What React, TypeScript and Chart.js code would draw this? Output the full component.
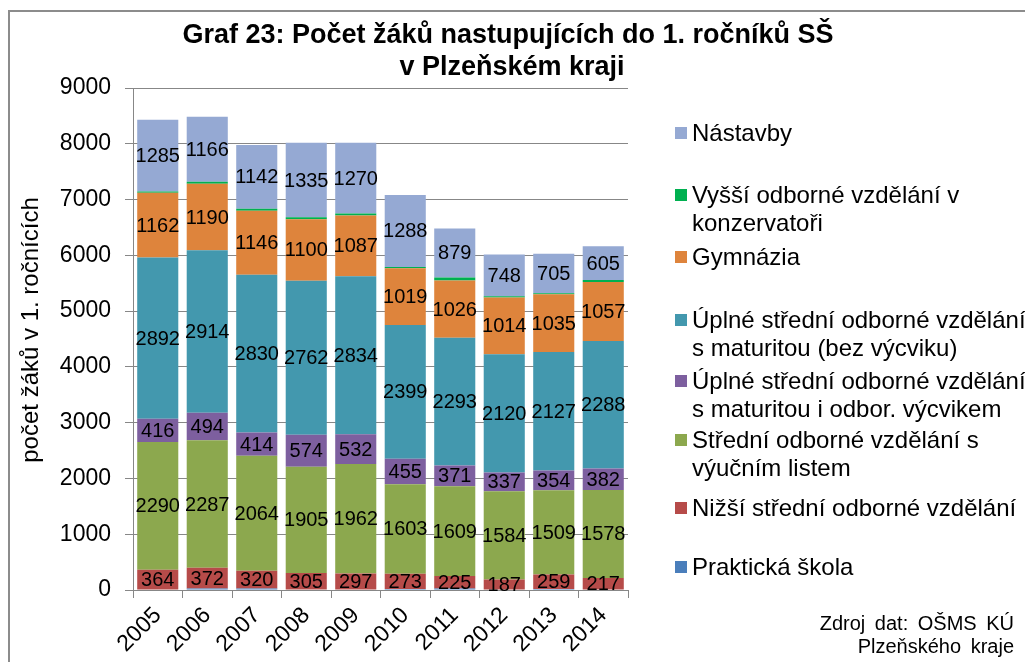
import React, { useEffect, useRef } from 'react';
import { Chart, registerables } from 'chart.js';

Chart.register(...registerables);

// ---------- DATA ----------
const years = ['2005', '2006', '2007', '2008', '2009', '2010', '2011', '2012', '2013', '2014'];

const praktickaSkola = [0, 25, 25, 0, 0, 20, 25, 0, 20, 0];
const nizsiStredni = [364, 372, 320, 305, 297, 273, 225, 187, 259, 217];
const stredniVyucni = [2290, 2287, 2064, 1905, 1962, 1603, 1609, 1584, 1509, 1578];
const uplneSVycvikem = [416, 494, 414, 574, 532, 455, 371, 337, 354, 382];
const uplneBezVycviku = [2892, 2914, 2830, 2762, 2834, 2399, 2293, 2120, 2127, 2288];
const gymnazia = [1162, 1190, 1146, 1100, 1087, 1019, 1026, 1014, 1035, 1057];
const konzervator = [20, 36, 36, 36, 36, 24, 54, 24, 18, 36];
const nastavby = [1285, 1166, 1142, 1335, 1270, 1288, 879, 748, 705, 605];

const yMin = 0;
const yMax = 9000;
const yStep = 1000;

const titleLines = ['Graf 23: Počet žáků nastupujících do 1. ročníků SŠ', 'v Plzeňském kraji'];
const yAxisTitle = 'počet žáků v 1. ročnících';
const sourceLines = ['Zdroj dat: OŠMS KÚ', 'Plzeňského kraje'];

// stacking order: bottom -> top
const series = [
  { label: 'Praktická škola', lines: ['Praktická škola'], data: praktickaSkola, color: '#4A7EBB', values: false },
  { label: 'Nižší střední odborné vzdělání', lines: ['Nižší střední odborné vzdělání'], data: nizsiStredni, color: '#B64B49', values: true },
  { label: 'Střední odborné vzdělání s výučním listem', lines: ['Střední odborné vzdělání s', 'výučním listem'], data: stredniVyucni, color: '#8CA84E', values: true },
  { label: 'Úplné střední odborné vzdělání s maturitou i odbor. výcvikem', lines: ['Úplné střední odborné vzdělání', 's maturitou i odbor. výcvikem'], data: uplneSVycvikem, color: '#7D5F9F', values: true },
  { label: 'Úplné střední odborné vzdělání s maturitou (bez výcviku)', lines: ['Úplné střední odborné vzdělání', 's maturitou (bez výcviku)'], data: uplneBezVycviku, color: '#4398AE', values: true },
  { label: 'Gymnázia', lines: ['Gymnázia'], data: gymnazia, color: '#DE843C', values: true },
  { label: 'Vyšší odborné vzdělání v konzervatoři', lines: ['Vyšší odborné vzdělání v', 'konzervatoři'], data: konzervator, color: '#00B050', values: false },
  { label: 'Nástavby', lines: ['Nástavby'], data: nastavby, color: '#95A9D3', values: true },
];

// ---------- LAYOUT ----------
const W = 1025;
const H = 662;
const FONT = '"Liberation Sans", Arial, sans-serif';
const GRID = '#878787';

// legend first-line baselines, top -> bottom (legend is reversed stacking order)
const legendBaselines = [141, 203, 265, 328, 389, 448, 516, 575];
const legendLineGap = 28;

const decorPlugin = {
  id: 'decor',
  beforeDraw(chart: any) {
    const ctx = chart.ctx;
    ctx.save();
    ctx.fillStyle = '#ffffff';
    ctx.fillRect(0, 0, chart.width, chart.height);
    ctx.strokeStyle = '#8c8c8c';
    ctx.lineWidth = 2;
    ctx.strokeRect(9, 11, 1040, 700);
    ctx.restore();
  },
  afterDatasetsDraw(chart: any) {
    const ctx = chart.ctx;
    ctx.save();
    ctx.font = `20px ${FONT}`;
    ctx.fillStyle = '#000';
    ctx.textAlign = 'center';
    ctx.textBaseline = 'middle';
    chart.data.datasets.forEach((ds: any, i: number) => {
      if (!ds.showValues) return;
      const meta = chart.getDatasetMeta(i);
      meta.data.forEach((bar: any, j: number) => {
        const p = bar.getProps(['x', 'y', 'base'], true);
        const v = ds.data[j];
        ctx.fillText(String(v), p.x, (p.y + p.base) / 2 + 1);
      });
    });
    ctx.restore();
  },
  afterDraw(chart: any) {
    const ctx = chart.ctx;
    ctx.save();
    // title
    ctx.fillStyle = '#000';
    ctx.font = `bold 27px ${FONT}`;
    ctx.textAlign = 'center';
    ctx.textBaseline = 'alphabetic';
    ctx.fillText(titleLines[0], 508, 43);
    ctx.fillText(titleLines[1], 512, 75);

    // y axis title
    ctx.save();
    ctx.translate(31, 330);
    ctx.rotate(-Math.PI / 2);
    ctx.font = `24px ${FONT}`;
    ctx.textAlign = 'center';
    ctx.textBaseline = 'middle';
    ctx.fillText(yAxisTitle, 0, 0);
    ctx.restore();

    // legend
    ctx.font = `24px ${FONT}`;
    ctx.textAlign = 'left';
    ctx.textBaseline = 'alphabetic';
    const legendItems = [...series].reverse();
    legendItems.forEach((s, k) => {
      const base = legendBaselines[k];
      ctx.fillStyle = s.color;
      ctx.fillRect(675, base - 14, 12, 12);
      ctx.fillStyle = '#000';
      s.lines.forEach((ln, li) => {
        ctx.fillText(ln, 692, base + li * legendLineGap);
      });
    });

    // source
    ctx.font = `20px ${FONT}`;
    ctx.textAlign = 'right';
    try { (ctx as any).wordSpacing = '4px'; } catch (e) {}
    ctx.fillText(sourceLines[0], 1014, 630);
    ctx.fillText(sourceLines[1], 1014, 653);
    ctx.restore();
  },
};

export default function App() {
  const ref = useRef<HTMLCanvasElement | null>(null);

  useEffect(() => {
    if (!ref.current) return;
    const chart = new Chart(ref.current, {
      type: 'bar',
      data: {
        labels: years,
        datasets: series.map((s) => ({
          label: s.label,
          data: s.data,
          backgroundColor: s.color,
          borderWidth: 0,
          barPercentage: 0.83,
          categoryPercentage: 1,
          showValues: s.values,
        })) as any,
      },
      options: {
        responsive: false,
        animation: false,
        layout: { padding: { left: 0, top: 88, right: W - 628, bottom: 0 } },
        plugins: {
          legend: { display: false },
          title: { display: false },
          tooltip: { enabled: false },
        },
        scales: {
          x: {
            stacked: true,
            grid: { display: true, drawOnChartArea: false, drawTicks: true, tickLength: 8, color: GRID, offset: true },
            border: { display: true, color: GRID, width: 1 },
            ticks: {
              color: '#000',
              font: { family: FONT, size: 23 },
              minRotation: 45,
              maxRotation: 45,
              padding: 4,
              autoSkip: false,
            },
            afterFit: (s: any) => { s.height = H - 590; },
          },
          y: {
            stacked: true,
            min: yMin,
            max: yMax,
            grid: { color: GRID, tickLength: 8, tickColor: GRID, lineWidth: 1 },
            border: { display: true, color: GRID, width: 1 },
            ticks: {
              stepSize: yStep,
              color: '#000',
              font: { family: FONT, size: 23 },
              padding: 14,
              callback: (v: any) => String(v),
            },
            afterFit: (s: any) => { s.width = 133; },
          },
        },
      } as any,
      plugins: [decorPlugin],
    });
    return () => chart.destroy();
  }, []);

  return (
    <div style={{ position: 'fixed', left: 0, top: 0, width: W, height: H, overflow: 'hidden', background: '#fff' }}>
      <canvas ref={ref} width={W} height={H} style={{ display: 'block', width: W, height: H }} />
    </div>
  );
}
